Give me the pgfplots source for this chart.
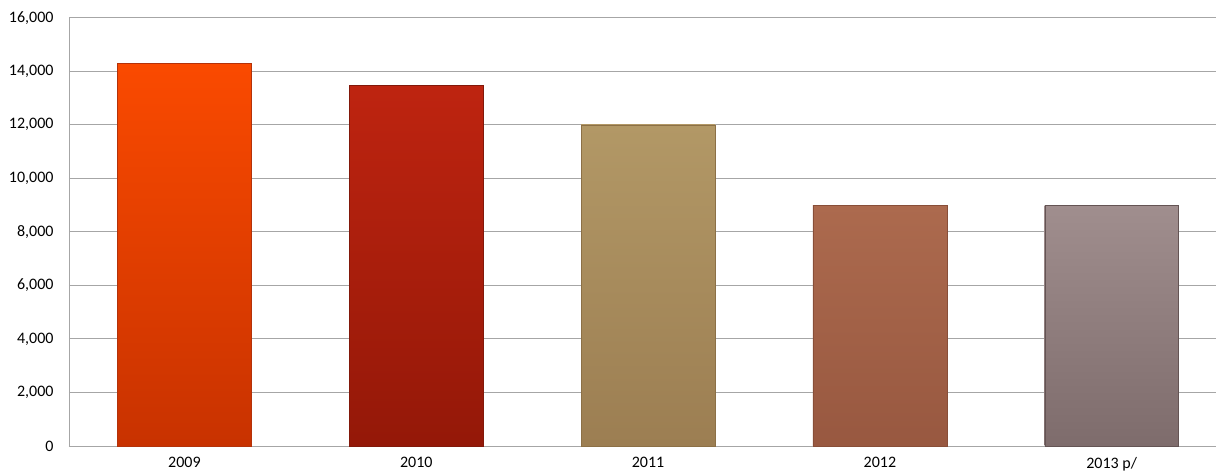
\documentclass[border=0pt]{standalone}
\usepackage{pgfplots}
\pgfplotsset{compat=1.18}
\usepackage{fontspec}
\setmainfont{Carlito}
\definecolor{gridc}{HTML}{A6A6A6}
\begin{document}
\fontsize{16pt}{19pt}\selectfont
\begin{tikzpicture}[x=1pt,y=1pt]
\path[use as bounding box] (0,0) rectangle (1216,476);
\begin{axis}[
  at={(69pt,30pt)}, anchor=south west,
  scale only axis, width=1147pt, height=428.3pt,
  xmin=-0.498, xmax=4.45, ymin=0, ymax=16000,
  ytick={0,2000,...,16000},
  xtick={0,1,2,3,4},
  xticklabels={2009,2010,2011,2012,2013 p/},
  ymajorgrids, grid style={gridc, line width=0.9pt},
  axis x line*=bottom, axis y line*=left,
  axis line style={gridc, line width=0.9pt, -},
  major tick length=0pt,
  scaled y ticks=false,
  /pgf/number format/fixed,
  /pgf/number format/1000 sep={,},
  /pgf/number format/assume math mode=true,
  yticklabel style={xshift=-10pt, font=\fontsize{16pt}{19pt}\selectfont},
  xticklabel style={yshift=-6pt, font=\fontsize{16pt}{19pt}\selectfont},
  ybar, bar width=0.578, bar shift=0pt,
  clip=false,
]
\addplot[draw={rgb,255:red,180;green,50;blue,10}, top color={rgb,255:red,250;green,74;blue,0}, bottom color={rgb,255:red,200;green,50;blue,0}] coordinates {(0,14300)};
\addplot[draw={rgb,255:red,130;green,24;blue,10}, top color={rgb,255:red,190;green,36;blue,16}, bottom color={rgb,255:red,148;green,24;blue,8}] coordinates {(1,13480)};
\addplot[draw={rgb,255:red,140;green,112;blue,70}, top color={rgb,255:red,178;green,152;blue,102}, bottom color={rgb,255:red,156;green,126;blue,82}] coordinates {(2,12000)};
\addplot[draw={rgb,255:red,136;green,78;blue,56}, top color={rgb,255:red,172;green,106;blue,78}, bottom color={rgb,255:red,152;green,88;blue,64}] coordinates {(3,9000)};
\addplot[draw={rgb,255:red,100;green,84;blue,84}, top color={rgb,255:red,160;green,142;blue,142}, bottom color={rgb,255:red,126;green,108;blue,108}] coordinates {(4,9000)};
\end{axis}
\end{tikzpicture}
\end{document}
